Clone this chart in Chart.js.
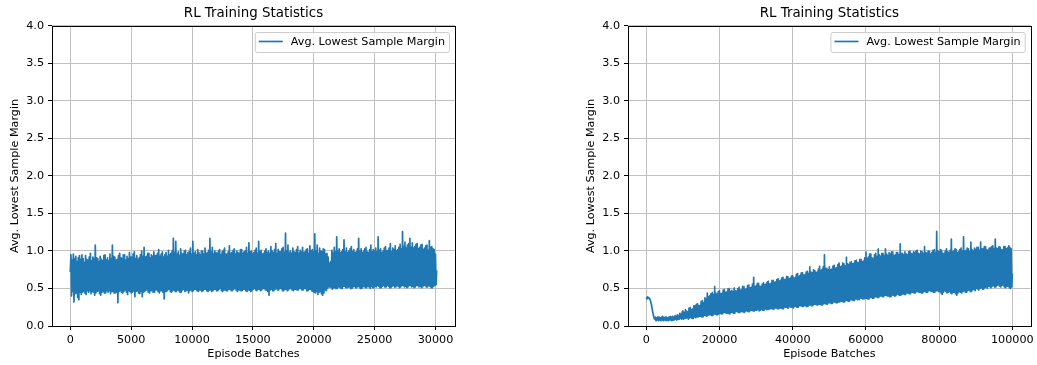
<!DOCTYPE html>
<html>
<head>
<meta charset="utf-8">
<script src="https://cdn.jsdelivr.net/npm/chart.js@4.4.1/dist/chart.umd.min.js"></script>
<style>
  html, body { margin: 0; padding: 0; background: #fff; }
  #wrap { position: relative; width: 1037px; height: 365px; overflow: hidden; }
  .panel { position: absolute; top: 0; }
  #p1 { left: 0; }
  #p2 { left: 518px; }
  canvas { display: block; }
</style>
</head>
<body>
<div id="wrap">
  <div class="panel" id="p1"><canvas id="c1" width="518" height="365"></canvas></div>
  <div class="panel" id="p2"><canvas id="c2" width="519" height="365"></canvas></div>
</div>
<script>
// Texts
const chartTitle = 'RL Training Statistics';
const seriesLabel = 'Avg. Lowest Sample Margin';
const xAxisLabel = 'Episode Batches';
const yAxisLabel = 'Avg. Lowest Sample Margin';

// Tick values
const yTicks = [0, 0.5, 1.0, 1.5, 2.0, 2.5, 3.0, 3.5, 4.0];
const leftXTicks = [0, 5000, 10000, 15000, 20000, 25000, 30000];
const rightXTicks = [0, 20000, 40000, 60000, 80000, 100000];

// Last logged episode batch of each run (samples are evenly spaced from 0)
const leftLastEpisode = 30100;
const rightLastEpisode = 100000;

// Run 1: avg. lowest sample margin per logged batch (one row = ~1000 batches)
const leftMargins = [
  0.72,
  0.95,0.40,0.88,0.46,0.96,0.32,0.90,0.43,0.93,0.44,0.86,0.38,0.91,0.35,0.94,0.45,0.89,0.42,0.95,0.45,
  0.90,0.46,0.85,0.44,0.94,0.42,0.89,0.47,0.88,0.45,0.92,0.47,0.97,0.43,0.87,0.46,0.92,0.45,0.90,0.41,
  1.08,0.44,0.91,0.46,0.90,0.47,0.86,0.43,0.93,0.41,0.89,0.45,0.87,0.46,0.94,0.44,0.95,0.44,0.88,0.47,
  0.91,0.45,0.87,0.47,0.96,0.43,0.90,0.46,1.08,0.46,0.93,0.44,0.92,0.44,0.88,0.45,0.89,0.31,0.94,0.46,
  0.97,0.47,0.91,0.45,0.90,0.44,0.95,0.46,0.95,0.48,0.88,0.45,0.93,0.42,0.90,0.47,0.98,0.46,0.92,0.44,
  0.92,0.45,0.96,0.47,0.99,0.39,0.90,0.46,0.94,0.47,0.89,0.44,0.91,0.43,0.95,0.46,1.00,0.39,0.93,0.45,
  1.05,0.46,0.92,0.48,0.93,0.48,0.97,0.45,0.97,0.44,0.91,0.47,0.95,0.47,0.93,0.45,0.99,0.45,0.94,0.48,
  0.94,0.48,0.97,0.46,1.02,0.44,0.93,0.47,0.96,0.47,0.99,0.45,0.92,0.36,0.95,0.46,0.98,0.46,0.93,0.48,
  1.01,0.49,0.95,0.46,0.97,0.45,1.00,0.47,1.17,0.48,0.98,0.46,1.13,0.46,0.96,0.48,0.99,0.47,0.94,0.45,
  1.03,0.45,0.97,0.48,0.96,0.49,1.00,0.46,1.01,0.47,0.95,0.48,0.98,0.44,0.99,0.47,1.04,0.48,0.96,0.46,
  1.13,0.47,0.97,0.49,0.99,0.49,0.95,0.47,1.02,0.46,0.98,0.48,0.95,0.48,1.00,0.46,1.00,0.47,0.96,0.49,
  1.04,0.49,0.97,0.47,0.98,0.46,1.01,0.48,1.17,0.48,0.99,0.46,1.05,0.47,0.96,0.49,1.00,0.49,0.98,0.47,
  0.97,0.47,1.00,0.49,1.02,0.50,0.95,0.47,0.99,0.46,1.01,0.48,1.04,0.48,0.96,0.47,0.96,0.47,0.99,0.49,
  1.07,0.49,0.97,0.47,0.98,0.47,1.01,0.49,1.03,0.50,0.96,0.48,1.00,0.46,0.98,0.48,0.97,0.48,1.02,0.47,
  1.02,0.47,0.97,0.49,0.99,0.49,1.00,0.47,1.05,0.46,0.97,0.48,1.11,0.48,0.99,0.46,1.00,0.47,0.96,0.49,
  0.98,0.50,1.01,0.48,1.04,0.47,0.97,0.49,1.13,0.49,0.99,0.47,1.01,0.48,0.96,0.50,0.97,0.50,1.00,0.48,
  1.03,0.48,0.98,0.46,1.00,0.41,0.97,0.48,1.06,0.49,1.00,0.47,0.98,0.47,1.02,0.49,1.10,0.50,0.97,0.48,
  1.02,0.48,0.99,0.50,0.99,0.50,1.03,0.47,1.05,0.47,0.98,0.49,1.24,0.49,1.00,0.47,1.08,0.48,0.98,0.50,
  1.00,0.50,0.97,0.48,1.04,0.47,0.99,0.49,0.98,0.49,1.02,0.48,1.06,0.48,0.97,0.50,1.01,0.50,0.99,0.48,
  1.05,0.48,0.98,0.50,0.99,0.50,1.02,0.47,1.03,0.47,0.97,0.49,1.07,0.49,1.00,0.47,1.02,0.46,0.99,0.45,
  1.23,0.44,1.00,0.46,1.08,0.42,0.97,0.45,1.04,0.46,1.00,0.43,0.99,0.41,1.03,0.44,1.02,0.48,0.96,0.47,
  0.97,0.50,0.92,0.52,0.84,0.52,0.86,0.51,1.01,0.49,0.98,0.51,1.05,0.51,0.99,0.50,1.19,0.50,1.00,0.52,
  1.03,0.52,0.98,0.50,0.99,0.50,1.02,0.53,1.15,0.53,0.99,0.51,1.04,0.51,0.98,0.52,1.00,0.52,1.03,0.50,
  1.06,0.50,0.99,0.52,1.02,0.53,0.98,0.51,0.99,0.51,1.03,0.53,1.17,0.52,1.00,0.50,1.03,0.50,0.98,0.52,
  1.00,0.53,1.03,0.51,1.05,0.51,0.99,0.53,0.98,0.52,1.02,0.50,1.08,0.53,0.99,0.51,1.02,0.51,1.00,0.53,
  1.04,0.52,0.99,0.54,1.19,0.53,1.01,0.51,1.03,0.51,0.98,0.53,1.00,0.54,1.04,0.52,1.06,0.52,1.00,0.54,
  1.01,0.53,1.04,0.51,1.10,0.51,0.99,0.53,1.04,0.54,1.02,0.52,1.07,0.52,1.00,0.54,1.02,0.53,1.05,0.51,
  1.09,0.52,1.03,0.54,1.26,0.54,1.06,0.52,1.12,0.53,1.04,0.51,1.08,0.52,1.10,0.54,1.17,0.54,1.05,0.52,
  1.11,0.53,1.04,0.51,1.06,0.52,1.09,0.54,1.10,0.54,1.03,0.52,1.05,0.53,1.08,0.51,1.09,0.52,1.02,0.54,
  1.04,0.54,1.07,0.52,1.08,0.52,1.01,0.54,1.14,0.53,1.05,0.51,1.06,0.51,1.03,0.53,1.02,0.54,0.96,0.55,
  0.74
];

// Run 2: avg. lowest sample margin per logged batch (one row = ~3333 batches)
const rightMargins = [
  0.38,0.36,0.39,0.37,0.38,0.36,0.36,0.33,0.30,0.26,0.21,0.17,0.13,0.10,0.09,0.12,0.07,0.11,0.08,0.12,
  0.07,0.12,0.08,0.11,0.07,0.12,0.08,0.13,0.07,0.11,0.08,0.12,0.07,0.12,0.08,0.11,0.07,0.12,0.08,0.13,
  0.08,0.12,0.07,0.13,0.08,0.12,0.08,0.14,0.09,0.13,0.08,0.15,0.09,0.14,0.09,0.17,0.10,0.16,0.09,0.19,
  0.20,0.09,0.18,0.10,0.22,0.10,0.20,0.11,0.19,0.09,0.24,0.11,0.25,0.11,0.22,0.10,0.23,0.10,0.27,0.12,
  0.27,0.11,0.29,0.12,0.30,0.12,0.27,0.13,0.28,0.13,0.33,0.12,0.34,0.12,0.31,0.14,0.38,0.14,0.36,0.13,
  0.44,0.14,0.39,0.15,0.41,0.15,0.43,0.14,0.45,0.14,0.42,0.16,0.53,0.16,0.44,0.15,0.43,0.15,0.46,0.16,
  0.47,0.17,0.43,0.16,0.44,0.16,0.48,0.18,0.49,0.18,0.45,0.17,0.46,0.17,0.50,0.16,0.50,0.16,0.46,0.18,
  0.48,0.18,0.46,0.17,0.51,0.17,0.47,0.19,0.47,0.19,0.50,0.18,0.52,0.18,0.48,0.19,0.49,0.19,0.53,0.18,
  0.53,0.18,0.49,0.20,0.50,0.20,0.54,0.19,0.55,0.19,0.51,0.21,0.52,0.21,0.56,0.20,0.65,0.20,0.53,0.21,
  0.54,0.21,0.57,0.22,0.57,0.20,0.53,0.21,0.53,0.22,0.56,0.21,0.58,0.21,0.55,0.23,0.56,0.22,0.59,0.22,
  0.60,0.22,0.56,0.23,0.57,0.23,0.61,0.22,0.61,0.22,0.58,0.24,0.59,0.24,0.62,0.23,0.63,0.23,0.60,0.24,
  0.61,0.24,0.64,0.23,0.65,0.23,0.62,0.25,0.62,0.25,0.66,0.24,0.66,0.24,0.63,0.26,0.64,0.25,0.67,0.25,
  0.67,0.24,0.64,0.26,0.65,0.26,0.69,0.25,0.70,0.25,0.66,0.27,0.68,0.27,0.71,0.26,0.71,0.26,0.68,0.27,
  0.69,0.27,0.72,0.26,0.73,0.26,0.70,0.28,0.79,0.28,0.72,0.27,0.71,0.27,0.75,0.29,0.74,0.29,0.72,0.28,
  0.72,0.28,0.76,0.29,0.80,0.29,0.74,0.28,0.76,0.28,0.79,0.30,0.95,0.30,0.77,0.29,0.77,0.29,0.75,0.31,
  0.79,0.31,0.75,0.30,0.76,0.30,0.80,0.32,0.81,0.32,0.77,0.31,0.78,0.31,0.82,0.32,0.84,0.32,0.79,0.33,
  0.80,0.33,0.84,0.32,0.83,0.32,0.80,0.34,0.92,0.34,0.83,0.33,0.82,0.33,0.85,0.35,0.86,0.35,0.83,0.34,
  0.84,0.34,0.87,0.36,0.88,0.36,0.85,0.35,0.85,0.35,0.89,0.37,0.89,0.37,0.86,0.36,0.87,0.36,0.91,0.37,
  0.99,0.37,0.90,0.36,0.92,0.36,0.96,0.38,0.96,0.38,0.91,0.37,0.90,0.37,0.95,0.39,0.97,0.39,0.93,0.38,
  1.03,0.38,0.95,0.40,0.93,0.40,0.97,0.39,0.97,0.39,0.94,0.41,1.03,0.41,0.96,0.40,0.94,0.40,0.98,0.39,
  0.96,0.39,0.99,0.41,0.99,0.41,0.94,0.40,0.95,0.40,0.98,0.42,0.98,0.42,0.95,0.41,1.10,0.41,0.97,0.42,
  0.97,0.43,0.95,0.42,0.99,0.42,0.96,0.44,0.95,0.44,0.99,0.43,1.00,0.43,0.97,0.45,0.96,0.45,0.99,0.44,
  0.98,0.44,1.00,0.46,1.01,0.46,0.97,0.45,0.96,0.45,1.00,0.44,0.99,0.44,0.97,0.46,1.06,0.46,0.98,0.45,
  0.97,0.45,1.00,0.47,1.00,0.47,0.96,0.46,0.98,0.46,1.01,0.45,1.02,0.45,0.98,0.47,1.26,0.47,1.00,0.46,
  0.99,0.46,1.02,0.44,1.01,0.42,0.97,0.45,0.97,0.47,1.00,0.46,1.03,0.44,0.99,0.45,0.98,0.46,1.01,0.44,
  1.16,0.43,0.99,0.45,1.00,0.45,1.03,0.43,1.02,0.41,0.98,0.44,0.99,0.46,1.02,0.45,1.04,0.44,1.00,0.46,
  1.19,0.47,1.00,0.45,1.01,0.45,1.04,0.47,1.03,0.48,0.99,0.46,1.12,0.46,1.02,0.48,1.00,0.49,1.04,0.47,
  1.02,0.50,1.05,0.49,1.05,0.48,1.01,0.50,1.12,0.51,1.03,0.49,1.03,0.49,1.06,0.51,1.06,0.52,1.02,0.50,
  1.01,0.53,1.04,0.52,1.04,0.51,1.06,0.53,1.07,0.54,1.03,0.52,1.16,0.52,1.04,0.54,1.03,0.55,1.06,0.53,
  1.05,0.52,1.02,0.54,1.02,0.54,1.06,0.52,1.06,0.51,1.03,0.53,1.04,0.53,1.07,0.51,1.05,0.50,1.03,0.52,
  0.70
];

const FONT = '"DejaVu Sans", "Liberation Sans", sans-serif';
Chart.defaults.font.family = FONT;
Chart.defaults.color = '#000';

// Black box around the plotting area
const axesFrame = {
  id: 'axesFrame',
  afterDatasetsDraw(chart) {
    const { ctx, chartArea: a } = chart;
    ctx.save();
    ctx.strokeStyle = '#000';
    ctx.lineWidth = 1;
    ctx.strokeRect(Math.round(a.left) + 0.5, Math.round(a.top) + 0.5,
                   Math.round(a.right - a.left), Math.round(a.bottom - a.top));
    ctx.restore();
  }
};

// Legend box in the upper right corner of the axes
const insetLegend = {
  id: 'insetLegend',
  afterDraw(chart) {
    const { ctx, chartArea: a } = chart;
    const ds = chart.data.datasets[0];
    ctx.save();
    ctx.font = '11.2px ' + FONT;
    const tw = ctx.measureText(ds.label).width;
    const w = 36 + tw + 4, h = 20;
    const x = a.right - 6 - w, y = a.top + 6;
    ctx.beginPath();
    ctx.roundRect(x + 0.5, y + 0.5, w, h, 2);
    ctx.fillStyle = 'rgba(255,255,255,0.8)';
    ctx.fill();
    ctx.strokeStyle = '#cccccc';
    ctx.lineWidth = 1;
    ctx.stroke();
    ctx.beginPath();
    ctx.moveTo(x + 4, y + 9.5);
    ctx.lineTo(x + 28, y + 9.5);
    ctx.strokeStyle = ds.borderColor;
    ctx.lineWidth = ds.borderWidth;
    ctx.stroke();
    ctx.fillStyle = '#000';
    ctx.textBaseline = 'middle';
    ctx.textAlign = 'left';
    ctx.fillText(ds.label, x + 36, y + 10);
    ctx.restore();
  }
};

function buildPoints(margins, lastEpisode) {
  const step = lastEpisode / (margins.length - 1);
  return margins.map((v, i) => ({ x: i * step, y: v }));
}

function makeChart(id, margins, lastEpisode, xTicks, padLeft, padRight) {
  const span = lastEpisode * 0.05;
  return new Chart(document.getElementById(id), {
    type: 'line',
    data: {
      datasets: [{
        label: seriesLabel,
        data: buildPoints(margins, lastEpisode),
        borderColor: '#1f77b4',
        borderWidth: 1.7,
        borderJoinStyle: 'round',
        borderCapStyle: 'butt',
        pointRadius: 0,
        // a tiny tension keeps every vertex (no per-pixel point merging)
        tension: 0.0001,
        fill: false
      }]
    },
    options: {
      responsive: false,
      animation: false,
      devicePixelRatio: 1,
      layout: { padding: { left: padLeft, right: padRight, top: 0, bottom: 0 } },
      plugins: {
        legend: { display: false },
        tooltip: { enabled: false },
        title: {
          display: true,
          text: chartTitle,
          fullSize: false,
          color: '#000',
          font: { size: 13.4, weight: 'normal' },
          padding: { top: 5.5, bottom: 4.4 }
        }
      },
      scales: {
        x: {
          type: 'linear',
          min: -span,
          max: lastEpisode + span,
          afterBuildTicks: ax => { ax.ticks = xTicks.map(v => ({ value: v })); },
          afterFit: ax => { ax.height = 39; },
          ticks: { callback: v => String(v), padding: 3, maxRotation: 0, autoSkip: false, font: { size: 11.2 }, color: '#000' },
          grid: { color: '#c0c0c0', lineWidth: 1, tickColor: '#000', tickLength: 4, tickWidth: 1 },
          border: { display: false },
          title: { display: true, text: xAxisLabel, color: '#000', font: { size: 11.2 }, padding: { top: 0, bottom: 4.3 } }
        },
        y: {
          min: 0,
          max: 4,
          afterBuildTicks: ax => { ax.ticks = yTicks.map(v => ({ value: v })); },
          afterFit: ax => { ax.width = 52; },
          ticks: { callback: v => Number(v).toFixed(1), padding: 4, font: { size: 11.2 }, color: '#000' },
          grid: { color: '#c0c0c0', lineWidth: 1, tickColor: '#000', tickLength: 4, tickWidth: 1 },
          border: { display: false },
          title: { display: true, text: yAxisLabel, color: '#000', font: { size: 11.2 }, padding: { top: 8, bottom: 0 } }
        }
      }
    },
    plugins: [axesFrame, insetLegend]
  });
}

makeChart('c1', leftMargins, leftLastEpisode, leftXTicks, 0, 63);
makeChart('c2', rightMargins, rightLastEpisode, rightXTicks, 58, 6);
</script>
</body>
</html>
